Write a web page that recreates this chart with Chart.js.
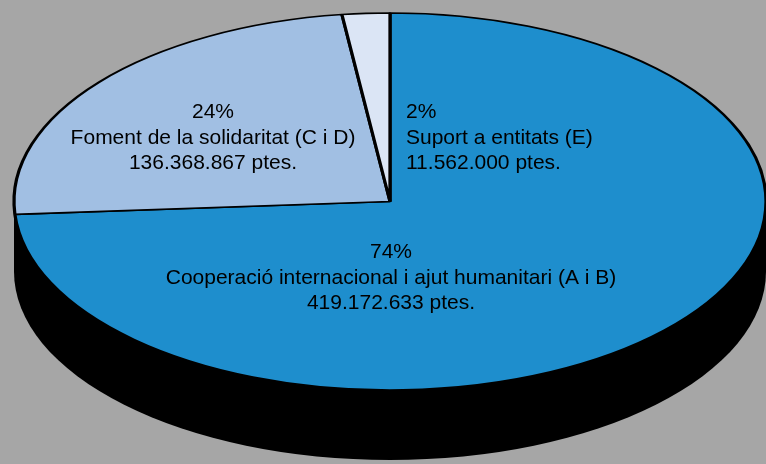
<!DOCTYPE html>
<html>
<head>
<meta charset="utf-8">
<script src="https://cdn.jsdelivr.net/npm/chart.js@4.4.1/dist/chart.umd.min.js"></script>
<style>
  html, body { margin: 0; padding: 0; background: #a6a6a6; }
  #wrap { width: 766px; height: 464px; }
</style>
</head>
<body>
<div id="wrap"><canvas id="pie" width="766" height="464"></canvas></div>
<script>
const categories = ['Cooperació internacional i ajut humanitari (A i B)', 'Foment de la solidaritat (C i D)', 'Suport a entitats (E)'];
const amounts = [419172633, 136368867, 11562000];
const sliceColors = ['#1e8ecd', '#a1bfe3', '#dbe5f5'];

// where the flattened pie sits on the page
const face = { cx: 390, cy: 201.5, rx: 376, ry: 188.5, depth: 70 };
// first-line anchor of each slice label
const labelSpots = [
  { x: 391, y: 258, align: 'center' },
  { x: 213, y: 118, align: 'center' },
  { x: 406, y: 118, align: 'left' }
];
const lineGap = 25.5;

function ptes(v) {
  return String(v).replace(/\B(?=(\d{3})+(?!\d))/g, '.') + ' ptes.';
}

const tiltPlugin = {
  id: 'tilt',
  beforeDatasetsDraw(chart) {
    const ctx = chart.ctx;
    const arc = chart.getDatasetMeta(0).data[0];
    // black side of the disc
    ctx.save();
    ctx.fillStyle = '#000';
    ctx.beginPath();
    ctx.ellipse(face.cx, face.cy + face.depth, face.rx, face.ry, 0, 0, Math.PI * 2);
    ctx.fill();
    ctx.fillRect(face.cx - face.rx, face.cy, face.rx * 2, face.depth);
    ctx.restore();
    // squash the round pie into the ellipse
    ctx.save();
    ctx.translate(face.cx, face.cy);
    ctx.scale(face.rx / arc.outerRadius, face.ry / arc.outerRadius);
    ctx.translate(-arc.x, -arc.y);
  },
  afterDatasetsDraw(chart) {
    chart.ctx.restore();
  },
  afterDraw(chart) {
    const ctx = chart.ctx;
    const total = amounts.reduce((a, b) => a + b, 0);
    ctx.save();
    ctx.font = '21px "Liberation Sans", Arial, sans-serif';
    ctx.fillStyle = '#000';
    ctx.textBaseline = 'alphabetic';
    amounts.forEach((v, i) => {
      const spot = labelSpots[i];
      const lines = [Math.round(v / total * 100) + '%', categories[i], ptes(v)];
      ctx.textAlign = spot.align;
      lines.forEach((t, j) => ctx.fillText(t, spot.x, spot.y + j * lineGap));
    });
    ctx.restore();
  }
};

new Chart(document.getElementById('pie'), {
  type: 'pie',
  data: {
    labels: categories,
    datasets: [{
      data: amounts,
      backgroundColor: sliceColors,
      borderColor: '#000',
      borderWidth: 2,
      clip: false
    }]
  },
  options: {
    responsive: false,
    devicePixelRatio: 1,
    animation: false,
    events: [],
    layout: { padding: 0 },
    plugins: { legend: { display: false }, tooltip: { enabled: false } }
  },
  plugins: [tiltPlugin]
});
</script>
</body>
</html>
